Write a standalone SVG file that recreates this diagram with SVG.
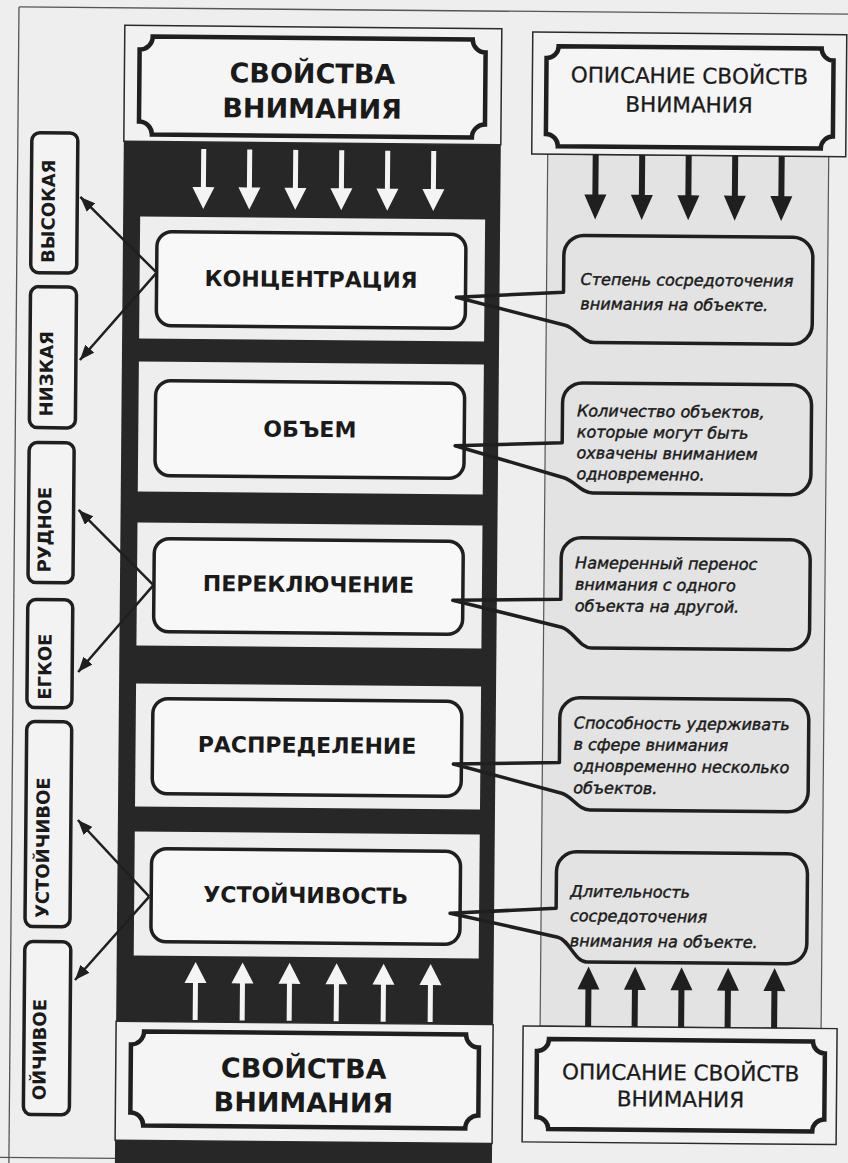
<svg xmlns="http://www.w3.org/2000/svg" width="848" height="1163" viewBox="0 0 848 1163">
<defs>
<style>
.dark{fill:#272727}
.panel{fill:#eeeeee}
.box{fill:#f8f8f8;stroke:#1f1f1f;stroke-width:3.5}
.lbl{fill:#f3f3f3;stroke:#1f1f1f;stroke-width:3.5}
.orn{fill:#f5f5f5;stroke:#1f1f1f;stroke-width:4.5}
.outer{fill:#f1f1f1;stroke:#2a2a2a;stroke-width:1.5}
.bub{fill:none;stroke:#1f1f1f;stroke-width:3.5;stroke-linejoin:round}
.frame{stroke:#555;stroke-width:1.3;fill:none}
.ttl{font-family:"DejaVu Sans",Verdana,sans-serif;font-weight:bold;font-size:27px;fill:#1a1a1a;text-anchor:middle}
.tbox{font-family:"DejaVu Sans",Verdana,sans-serif;font-weight:bold;font-size:22px;fill:#1a1a1a;text-anchor:middle}
.tdesc{font-family:"DejaVu Sans",Verdana,sans-serif;font-size:21.5px;fill:#1a1a1a;text-anchor:middle;stroke:#1a1a1a;stroke-width:0.3}
.tlbl{font-family:"DejaVu Sans",Verdana,sans-serif;font-weight:bold;font-size:18px;fill:#1a1a1a;text-anchor:middle}
.tbub{font-family:"DejaVu Sans",Verdana,sans-serif;font-style:italic;font-size:16px;fill:#1a1a1a;stroke:#1a1a1a;stroke-width:0.45}
.conn{stroke:#1f1f1f;stroke-width:2.5;fill:none;marker-end:url(#ah)}
.wa{fill:#f4f4f4}
.ba{fill:#1f1f1f}
</style>
<marker id="ah" markerUnits="userSpaceOnUse" markerWidth="16" markerHeight="12" refX="15" refY="6" orient="auto">
<path d="M0,0 L15,6 L0,12 Z" fill="#1f1f1f"/>
</marker>
<path id="wdown" class="wa" d="M-2.5,0 H2.5 V38 H11 L0,60 L-11,38 H-2.5 Z"/>
<path id="wup" class="wa" d="M-2.5,0 H2.5 V-37 H11 L0,-58 L-11,-37 H-2.5 Z"/>
<path id="bdown" class="ba" d="M-3,0 H3 V40 H11 L0,65 L-11,40 H-3 Z"/>
<path id="bup" class="ba" d="M-3,0 H3 V-37 H11 L0,-60 L-11,-37 H-3 Z"/>
</defs>
<rect x="0" y="0" width="848" height="1163" fill="#eeeeee"/>
<g transform="rotate(0.5 424 580)">
<g id="page-frame">
<line class="frame" x1="14" y1="10.5" x2="870" y2="10.5"/>
<line class="frame" x1="14" y1="10.5" x2="14" y2="1175"/>
<line class="frame" x1="0" y1="1161" x2="120" y2="1161"/>
</g>
<g id="description-column">
<rect x="544" y="153" width="281" height="872" fill="#e3e3e3" stroke="#555" stroke-width="1.2"/>
</g>
<g id="main-column">
<rect class="dark" x="120" y="144" width="377" height="1030"/>
<rect class="panel" x="137" y="219" width="345" height="122"/>
<rect class="panel" x="137" y="364" width="345" height="130"/>
<rect class="panel" x="137" y="525" width="345" height="123"/>
<rect class="panel" x="137" y="686" width="345" height="123"/>
<rect class="panel" x="137" y="834" width="345" height="124"/>
</g>
<g id="title-top">
<rect class="outer" x="120" y="28" width="377" height="116"/>
<path class="orn" d="M148,39 H468 A13,13 0 0 0 481,52 V124 A13,13 0 0 0 468,137 H148 A13,13 0 0 0 135,124 V52 A13,13 0 0 0 148,39 Z"/>
<text class="ttl" x="308" y="84">СВОЙСТВА</text>
<text class="ttl" x="308" y="119">ВНИМАНИЯ</text>
</g>
<g id="title-bottom">
<rect class="outer" x="120" y="1024" width="377" height="119"/>
<path class="orn" d="M148,1034 H470 A13,13 0 0 0 483,1047 V1115 A13,13 0 0 0 470,1128 H148 A13,13 0 0 0 135,1115 V1047 A13,13 0 0 0 148,1034 Z"/>
<text class="ttl" x="308" y="1079">СВОЙСТВА</text>
<text class="ttl" x="308" y="1113">ВНИМАНИЯ</text>
</g>
<g id="desc-top">
<rect class="outer" x="528" y="31" width="314" height="122"/>
<path class="orn" d="M554,45 H817 A12,12 0 0 0 829,57 V133 A12,12 0 0 0 817,145 H554 A12,12 0 0 0 542,133 V57 A12,12 0 0 0 554,45 Z"/>
<text class="tdesc" x="685" y="81">ОПИСАНИЕ СВОЙСТВ</text>
<text class="tdesc" x="685" y="110">ВНИМАНИЯ</text>
</g>
<g id="desc-bottom">
<rect class="outer" x="527" y="1025" width="314" height="116"/>
<path class="orn" d="M553,1038 H817 A12,12 0 0 0 829,1050 V1116 A12,12 0 0 0 817,1128 H553 A12,12 0 0 0 541,1116 V1050 A12,12 0 0 0 553,1038 Z"/>
<text class="tdesc" x="685" y="1078">ОПИСАНИЕ СВОЙСТВ</text>
<text class="tdesc" x="685" y="1104.5">ВНИМАНИЯ</text>
</g>
<g id="box-concentration">
<rect class="box" x="154" y="234" width="309" height="94" rx="15"/>
<text class="tbox" x="308.5" y="288">КОНЦЕНТРАЦИЯ</text>
</g>
<g id="box-volume">
<rect class="box" x="154" y="383" width="309" height="95" rx="15"/>
<text class="tbox" x="308.5" y="438">ОБЪЕМ</text>
</g>
<g id="box-switching">
<rect class="box" x="154" y="541" width="309" height="93" rx="15"/>
<text class="tbox" x="308.5" y="593">ПЕРЕКЛЮЧЕНИЕ</text>
</g>
<g id="box-distribution">
<rect class="box" x="154" y="701" width="309" height="95" rx="15"/>
<text class="tbox" x="308.5" y="754">РАСПРЕДЕЛЕНИЕ</text>
</g>
<g id="box-stability">
<rect class="box" x="154" y="851" width="309" height="93" rx="15"/>
<text class="tbox" x="308.5" y="904">УСТОЙЧИВОСТЬ</text>
</g>
<g id="connectors">
<use href="#wdown" transform="translate(200,151)"/>
<use href="#wdown" transform="translate(246,151)"/>
<use href="#wdown" transform="translate(292,151)"/>
<use href="#wdown" transform="translate(338,151)"/>
<use href="#wdown" transform="translate(384,151)"/>
<use href="#wdown" transform="translate(430,151)"/>
<use href="#wup" transform="translate(199,1022)"/>
<use href="#wup" transform="translate(246,1022)"/>
<use href="#wup" transform="translate(293,1022)"/>
<use href="#wup" transform="translate(340,1022)"/>
<use href="#wup" transform="translate(387,1022)"/>
<use href="#wup" transform="translate(434,1022)"/>
<use href="#bdown" transform="translate(592,153)"/>
<use href="#bdown" transform="translate(638.5,153)"/>
<use href="#bdown" transform="translate(685,153)"/>
<use href="#bdown" transform="translate(731.5,153)"/>
<use href="#bdown" transform="translate(778,153)"/>
<use href="#bup" transform="translate(592,1025)"/>
<use href="#bup" transform="translate(638.5,1025)"/>
<use href="#bup" transform="translate(685,1025)"/>
<use href="#bup" transform="translate(731.5,1025)"/>
<use href="#bup" transform="translate(778,1025)"/>
<line class="conn" x1="154" y1="275" x2="77" y2="200"/>
<line class="conn" x1="154" y1="275" x2="78" y2="363"/>
<line class="conn" x1="153.5" y1="587.5" x2="78" y2="513"/>
<line class="conn" x1="153.5" y1="587.5" x2="79" y2="675"/>
<line class="conn" x1="152" y1="899" x2="80" y2="823"/>
<line class="conn" x1="152" y1="899" x2="78.5" y2="983"/>
</g>
<g id="bubble-concentration">
<path class="bub" d="M581,234 H790 A20,20 0 0 1 810,254 V321 A20,20 0 0 1 790,341 H592 C580,341 574,326.7 563,324 L454,297 L561,291 V254 A20,20 0 0 1 581,234 Z"/>
<text class="tbub" x="578" y="283.5">Степень сосредоточения</text>
<text class="tbub" x="578" y="308">внимания на объекте.</text>
</g>
<g id="bubble-volume">
<path class="bub" d="M581,381.5 H790 A20,20 0 0 1 810,401.5 V471.5 A20,20 0 0 1 790,491.5 H592 C580,491.5 574,479.6 563,476.5 L454,445.5 L561,441.5 V401.5 A20,20 0 0 1 581,381.5 Z"/>
<text class="tbub" x="575.5" y="415">Количество объектов,</text>
<text class="tbub" x="575.5" y="436">которые могут быть</text>
<text class="tbub" x="575.5" y="457">охвачены вниманием</text>
<text class="tbub" x="575.5" y="478">одновременно.</text>
</g>
<g id="bubble-switching">
<path class="bub" d="M581,536.5 H790 A20,20 0 0 1 810,556.5 V626.5 A20,20 0 0 1 790,646.5 H592 C580,646.5 573,628.6 562,626 L453,600 L561,598 V556.5 A20,20 0 0 1 581,536.5 Z"/>
<text class="tbub" x="575" y="567">Намеренный перенос</text>
<text class="tbub" x="575" y="588.5">внимания с одного</text>
<text class="tbub" x="575" y="610">объекта на другой.</text>
</g>
<g id="bubble-distribution">
<path class="bub" d="M581,696.5 H790 A20,20 0 0 1 810,716.5 V788.5 A20,20 0 0 1 790,808.5 H592 C580,808.5 574,794.7 563.5,792 L455,763.7 L561,761.3 V716.5 A20,20 0 0 1 581,696.5 Z"/>
<text class="tbub" x="575" y="727">Способность удерживать</text>
<text class="tbub" x="575" y="748.5">в сфере внимания</text>
<text class="tbub" x="575" y="770">одновременно несколько</text>
<text class="tbub" x="575" y="792">объектов.</text>
</g>
<g id="bubble-stability">
<path class="bub" d="M579,850.5 H790 A20,20 0 0 1 810,870.5 V940.5 A20,20 0 0 1 790,960.5 H590 C578,960.5 572,938.3 561,936 L453,913 L559,907 V870.5 A20,20 0 0 1 579,850.5 Z"/>
<text class="tbub" x="573" y="895.5">Длительность</text>
<text class="tbub" x="573" y="920">сосредоточения</text>
<text class="tbub" x="573" y="945">внимания на объекте.</text>
</g>
<g id="label-high">
<rect class="lbl" x="28" y="136" width="46" height="140" rx="8"/>
<text class="tlbl" transform="translate(51.5,214.5) rotate(-90)">ВЫСОКАЯ</text>
</g>
<g id="label-low">
<rect class="lbl" x="28" y="290" width="46" height="141" rx="8"/>
<text class="tlbl" transform="translate(51,377) rotate(-90)">НИЗКАЯ</text>
</g>
<g id="label-difficult">
<rect class="lbl" x="28" y="446" width="45" height="140" rx="8"/>
<text class="tlbl" transform="translate(50.5,533) rotate(-90)">РУДНОЕ</text>
</g>
<g id="label-easy">
<rect class="lbl" x="28" y="603" width="45" height="108" rx="8"/>
<text class="tlbl" transform="translate(52,670) rotate(-90)">ЕГКОЕ</text>
</g>
<g id="label-stable">
<rect class="lbl" x="28" y="725" width="45" height="205" rx="8"/>
<text class="tlbl" transform="translate(51.5,851) rotate(-90)">УСТОЙЧИВОЕ</text>
</g>
<g id="label-unstable">
<rect class="lbl" x="28" y="945" width="46" height="173" rx="8"/>
<text class="tlbl" transform="translate(50,1053) rotate(-90)">ОЙЧИВОЕ</text>
</g>
</g>
</svg>
